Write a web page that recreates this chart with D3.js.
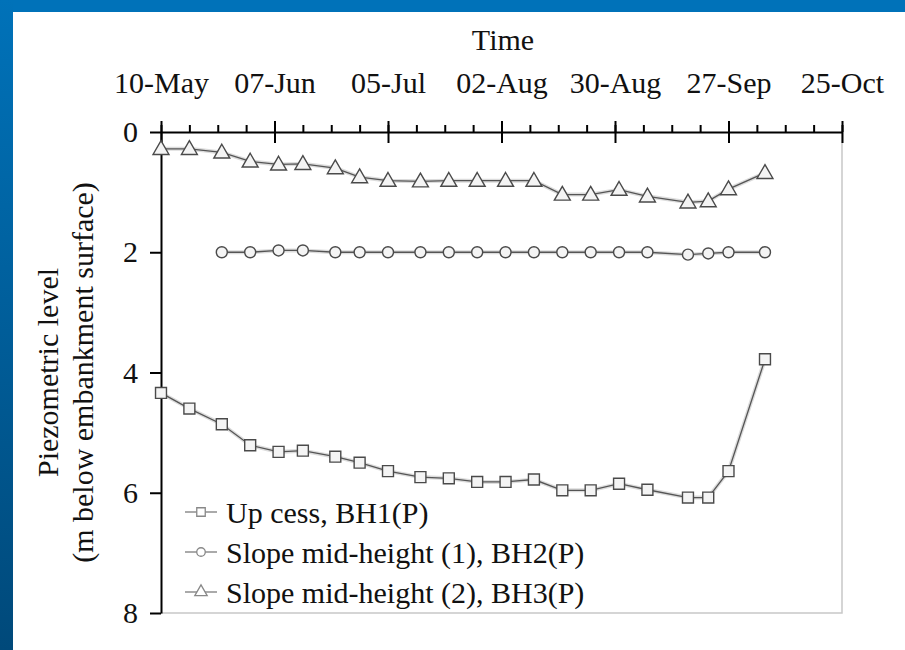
<!DOCTYPE html>
<html>
<head>
<meta charset="utf-8">
<script src="https://cdn.jsdelivr.net/npm/d3@7"></script>
<style>
  html, body { margin: 0; padding: 0; background: #fff; }
  svg { display: block; }
  svg text { font-family: "Liberation Serif", "Times New Roman", Times, serif; fill: #111; }
</style>
</head>
<body>
<svg id="chart" width="905" height="650"></svg>
<script>
// sampling dates
const dates = ["2005-05-10","2005-05-17","2005-05-25","2005-06-01","2005-06-08","2005-06-14",
  "2005-06-22","2005-06-28","2005-07-05","2005-07-13","2005-07-20","2005-07-27","2005-08-03",
  "2005-08-10","2005-08-17","2005-08-24","2005-08-31","2005-09-07","2005-09-17","2005-09-22",
  "2005-09-27","2005-10-06"];

const bh1 = [4.34, 4.60, 4.86, 5.21, 5.32, 5.30, 5.40, 5.50, 5.64, 5.74, 5.76, 5.82,
  5.82, 5.78, 5.96, 5.96, 5.85, 5.95, 6.08, 6.08, 5.64, 3.78];
// BH2 starts on 25-May
const bh2 = [null, null, 2.00, 2.00, 1.97, 1.97, 2.00, 2.00, 2.00, 2.00, 2.00, 2.00,
  2.00, 2.00, 2.00, 2.00, 2.00, 2.00, 2.04, 2.02, 2.00, 2.00];
const bh3 = [0.28, 0.28, 0.34, 0.49, 0.54, 0.53, 0.60, 0.75, 0.81, 0.82, 0.81, 0.81,
  0.81, 0.81, 1.04, 1.04, 0.96, 1.07, 1.17, 1.15, 0.95, 0.68];

const seriesNames = ["Up cess, BH1(P)", "Slope mid-height (1), BH2(P)", "Slope mid-height (2), BH3(P)"];
const majorTicks = ["2005-05-10","2005-06-07","2005-07-05","2005-08-02","2005-08-30","2005-09-27","2005-10-25"];
const yTicks = [0, 2, 4, 6, 8];

const parse = d3.timeParse("%Y-%m-%d");
const svg = d3.select("#chart");

// frame: blue band top and left
const defs = svg.append("defs");
const grad = defs.append("linearGradient").attr("id", "leftBand")
  .attr("x1", 0).attr("y1", 0).attr("x2", 0).attr("y2", 1);
grad.append("stop").attr("offset", "0%").attr("stop-color", "#0072b9");
grad.append("stop").attr("offset", "100%").attr("stop-color", "#00497a");
svg.append("rect").attr("x", 0).attr("y", 0).attr("width", 905).attr("height", 12).attr("fill", "#0072b9");
svg.append("rect").attr("x", 0).attr("y", 0).attr("width", 13).attr("height", 650).attr("fill", "url(#leftBand)");

const margin = { left: 161, right: 842, top: 132, bottom: 613 };

const x = d3.scaleTime()
  .domain([parse("2005-05-10"), parse("2005-10-25")])
  .range([margin.left, margin.right]);
const y = d3.scaleLinear().domain([0, 8]).range([margin.top, margin.bottom]);

// plot border (light grey right + bottom)
svg.append("path")
  .attr("d", `M${margin.right},${margin.top}V${margin.bottom}H${margin.left}`)
  .attr("fill", "none").attr("stroke", "#c8c8c8").attr("stroke-width", 1.5);

// minor x ticks every 7 days
const minor = d3.timeDay.range(parse("2005-05-10"), parse("2005-10-26"), 7);
svg.append("g")
  .attr("transform", `translate(0,${margin.top})`)
  .call(d3.axisTop(x).tickValues(minor).tickSize(7).tickFormat(""))
  .call(g => g.select(".domain").remove())
  .selectAll("line").attr("stroke", "#000").attr("stroke-width", 2);

// major x axis
const fmt = d3.timeFormat("%d-%b");
const xAxis = svg.append("g")
  .attr("transform", `translate(0,${margin.top})`)
  .call(d3.axisTop(x).tickValues(majorTicks.map(parse)).tickSizeInner(11).tickSizeOuter(0).tickPadding(28).tickFormat(fmt));
xAxis.select(".domain").attr("stroke", "#000").attr("stroke-width", 2);
xAxis.selectAll(".tick line").attr("y2", -11).attr("y1", 11).attr("stroke", "#000").attr("stroke-width", 2);
xAxis.selectAll("text").attr("font-family", null).attr("font-size", 30);

// y axis
const yAxis = svg.append("g")
  .attr("transform", `translate(${margin.left},0)`)
  .call(d3.axisLeft(y).tickValues(yTicks).tickSizeInner(11).tickSizeOuter(0).tickPadding(12));
yAxis.select(".domain").attr("stroke", "#000").attr("stroke-width", 2);
yAxis.selectAll(".tick line").attr("stroke", "#000").attr("stroke-width", 2);
yAxis.selectAll("text").attr("font-size", 30);
svg.selectAll("g").attr("font-family", null);

// titles
svg.append("text").attr("x", 503).attr("y", 50).attr("text-anchor", "middle")
  .attr("font-size", 30).text("Time");

const yMid = (margin.top + margin.bottom) / 2;
svg.append("text").attr("transform", `translate(58,${yMid}) rotate(-90)`).attr("text-anchor", "middle")
  .attr("font-size", 30).text("Piezometric level");
svg.append("text").attr("transform", `translate(93,${yMid}) rotate(-90)`).attr("text-anchor", "middle")
  .attr("font-size", 30).text("(m below embankment surface)");

// series
const shapes = [d3.symbolSquare, d3.symbolCircle, d3.symbolTriangle];
const sizes = [120, 95, 110];
const allSeries = [bh1, bh2, bh3].map((vals, i) => ({
  name: seriesNames[i],
  shape: shapes[i],
  size: sizes[i],
  points: dates.map((d, j) => ({ date: parse(d), value: vals[j] })).filter(p => p.value != null)
}));

const line = d3.line().x(d => x(d.date)).y(d => y(d.value));

const sg = svg.selectAll(".series").data(allSeries).join("g").attr("class", "series");
sg.append("path")
  .attr("d", d => line(d.points))
  .attr("fill", "none").attr("stroke", "#dcdcdc").attr("stroke-width", 4);
sg.append("path")
  .attr("d", d => line(d.points))
  .attr("fill", "none").attr("stroke", "#555").attr("stroke-width", 1.3);
sg.each(function (s) {
  d3.select(this).selectAll("path.mk").data(s.points).join("path")
    .attr("class", "mk")
    .attr("transform", p => `translate(${x(p.date)},${y(p.value) + (s.shape === d3.symbolTriangle ? 1 : 0)})`)
    .attr("d", d3.symbol().type(s.shape).size(s.size))
    .attr("fill", "#f4f4f4").attr("stroke", "#4a4a4a").attr("stroke-width", 1.4);
});

// legend
const legend = svg.append("g").attr("transform", "translate(185,512)");
const entries = legend.selectAll("g").data(allSeries).join("g")
  .attr("transform", (d, i) => `translate(0,${i * 40})`);
entries.append("line").attr("x1", 0).attr("x2", 32).attr("stroke", "#aaa").attr("stroke-width", 2);
entries.append("path")
  .attr("transform", "translate(16,0)")
  .attr("d", d => d3.symbol().type(d.shape).size(d.size * 0.6)())
  .attr("fill", "#fff").attr("stroke", "#888").attr("stroke-width", 1.3);
entries.append("text").attr("x", 41).attr("dy", "0.35em")
  .attr("font-size", 30)
  .text(d => d.name);
</script>
</body>
</html>
